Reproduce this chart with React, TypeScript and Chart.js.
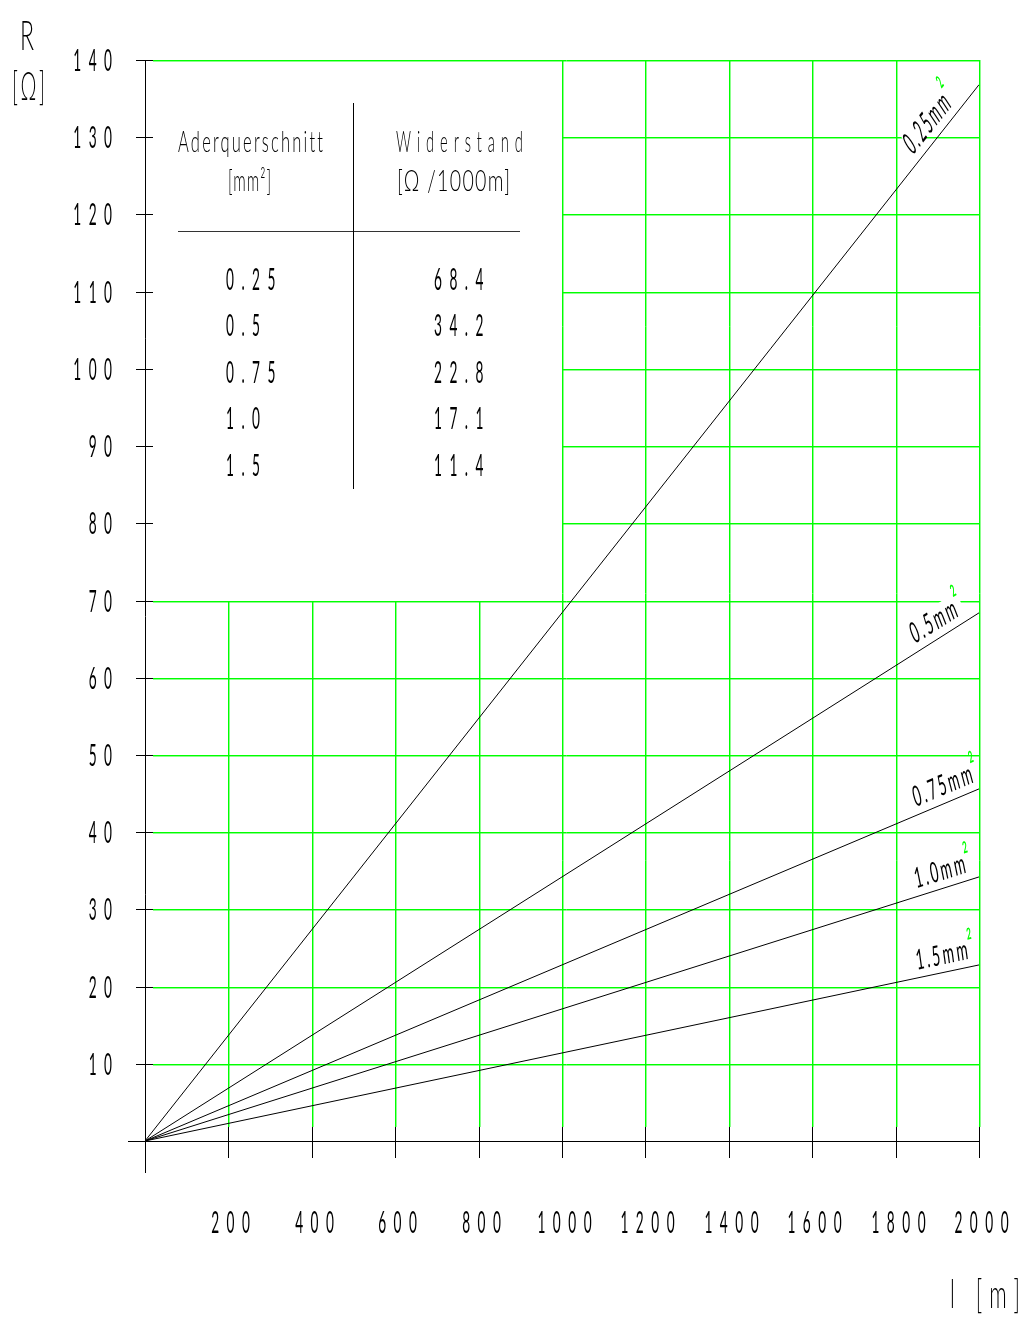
import React, { useEffect, useRef } from "react";
import { Chart, registerables } from "chart.js";

Chart.register(...registerables);

// ---- data ----
const lengthsM = [0, 2000];
const r025 = [0, 136.8];
const r05 = [0, 68.4];
const r075 = [0, 45.6];
const r10 = [0, 34.2];
const r15 = [0, 22.8];
const seriesValues = [r025, r05, r075, r10, r15];
const seriesNames = ["0.25mm", "0.5mm", "0.75mm", "1.0mm", "1.5mm"];

const tableSections = ["0.25", "0.5", "0.75", "1.0", "1.5"];
const tableResistances = ["68.4", "34.2", "22.8", "17.1", "11.4"];

const xMin = 0;
const xMax = 2000;
const xStep = 200;
const yMin = 0;
const yMax = 140;
const yStep = 10;
const partialGridLimitY = 70;
const partialGridLimitX = 1000;

const FONT = "Lato, 'DejaVu Sans', sans-serif";
const WEIGHT = 400;
const GREEN = "rgb(0,255,0)";
const GREEN_SOFT = "rgba(0,255,0,0.45)";

function setFont(ctx: CanvasRenderingContext2D, size: number, spacing: number, weight = WEIGHT) {
  ctx.font = `${weight} ${size}px ${FONT}`;
  (ctx as any).letterSpacing = `${spacing}px`;
}

// draws text; if fitWidth > 0, horizontal scale is chosen so the glyph run spans fitWidth
function drawText(
  ctx: CanvasRenderingContext2D,
  s: string,
  x: number,
  y: number,
  size: number,
  align: "left" | "center" | "right" = "left",
  sx = 1,
  spacing = 0,
  fitWidth = 0,
  color = "#000",
  weight = WEIGHT
) {
  ctx.save();
  setFont(ctx, size, spacing, weight);
  ctx.fillStyle = color;
  ctx.textBaseline = "alphabetic";
  ctx.textAlign = "left";
  const raw = ctx.measureText(s).width - spacing;
  const k = fitWidth > 0 ? fitWidth / raw : sx;
  ctx.translate(x, y);
  ctx.scale(k, 1);
  const ox = align === "center" ? -raw / 2 : align === "right" ? -raw : 0;
  ctx.fillText(s, ox, 0);
  ctx.restore();
}

function line(ctx: CanvasRenderingContext2D, x1: number, y1: number, x2: number, y2: number, color: string) {
  ctx.beginPath();
  ctx.strokeStyle = color;
  ctx.lineWidth = 1;
  ctx.moveTo(x1, y1);
  ctx.lineTo(x2, y2);
  ctx.stroke();
}

function gline(ctx: CanvasRenderingContext2D, x1: number, y1: number, x2: number, y2: number) {
  const horiz = y1 === y2;
  line(ctx, x1, y1, x2, y2, GREEN);
  if (horiz) line(ctx, x1, y1 + 1, x2, y2 + 1, GREEN_SOFT);
  else line(ctx, x1 + 1, y1, x2 + 1, y2, GREEN_SOFT);
}

const crisp = (v: number) => Math.round(v) + 0.5;

function labelGeometry(chart: any, vals: number[]) {
  const xs = chart.scales.x;
  const ys = chart.scales.y;
  const p0x = xs.getPixelForValue(lengthsM[0]);
  const p0y = ys.getPixelForValue(vals[0]);
  const p1x = xs.getPixelForValue(lengthsM[1]);
  const p1y = ys.getPixelForValue(vals[1]);
  const theta = Math.atan2(p0y - p1y, p1x - p0x);
  const t = 0.928;
  const px = p0x + t * (p1x - p0x);
  const py = p0y + t * (p1y - p0y);
  const off = 8;
  const bx = px - Math.sin(theta) * off;
  const by = py - Math.cos(theta) * off;
  return { theta, bx, by };
}

const LABEL_SIZE = 28;
const LABEL_SX = 0.5;
const LABEL_SP = 5;

function labelLocalSetup(ctx: CanvasRenderingContext2D, g: { theta: number; bx: number; by: number }) {
  ctx.translate(g.bx, g.by);
  ctx.rotate(-g.theta);
  const phi = g.theta * 0.35;
  ctx.transform(1, 0, -Math.tan(phi), 1, 0, 0);
  ctx.scale(LABEL_SX, 1);
}

const TICK_SIZE = 31;
const TICK_SX = 0.44;
const TICK_SP = 17;

const gridPlugin = {
  id: "cadGrid",
  beforeDatasetsDraw(chart: any) {
    const ctx: CanvasRenderingContext2D = chart.ctx;
    const xs = chart.scales.x;
    const ys = chart.scales.y;
    const x0 = xs.getPixelForValue(xMin);
    const xEnd = xs.getPixelForValue(xMax);
    const y0 = ys.getPixelForValue(yMin);
    const yTop = ys.getPixelForValue(yMax);
    ctx.save();
    // white masks behind line labels (horizontal grid is interrupted there)
    const masks: Array<(c: CanvasRenderingContext2D) => void> = [];
    // green grid - horizontal
    ys.ticks.forEach((tk: any) => {
      const v = tk.value;
      if (v <= yMin) return;
      const y = crisp(ys.getPixelForValue(v));
      const start = v <= partialGridLimitY || v === yMax ? x0 + 8 : xs.getPixelForValue(partialGridLimitX);
      gline(ctx, Math.round(start), y, Math.round(xEnd) + 1, y);
    });
    setFont(ctx, LABEL_SIZE, LABEL_SP);
    seriesValues.forEach((vals, i) => {
      const g = labelGeometry(chart, vals);
      ctx.save();
      labelLocalSetup(ctx, g);
      const w = ctx.measureText(seriesNames[i]).width;
      ctx.fillStyle = "#fff";
      ctx.fillRect(2, -22, w + 6, 21);
      ctx.restore();
    });
    // green grid - vertical
    xs.ticks.forEach((tk: any) => {
      const v = tk.value;
      if (v <= xMin) return;
      const x = crisp(xs.getPixelForValue(v));
      const top = v >= partialGridLimitX ? yTop : ys.getPixelForValue(partialGridLimitY);
      gline(ctx, x, Math.round(y0) - 14, x, Math.round(top));
    });
    masks.length = 0;
    // black axes
    const ay = crisp(y0);
    const ax = crisp(x0);
    line(ctx, Math.round(x0) - 17, ay, Math.round(xEnd) + 1, ay, "#000");
    line(ctx, ax, Math.round(yTop), ax, Math.round(y0) + 32, "#000");
    xs.ticks.forEach((tk: any) => {
      const v = tk.value;
      if (v <= xMin) return;
      const x = crisp(xs.getPixelForValue(v));
      line(ctx, x, Math.round(y0) - 14, x, Math.round(y0) + 17, "#000");
      drawText(ctx, String(v), x + 2, y0 + 92, TICK_SIZE, "center", TICK_SX, TICK_SP);
    });
    ys.ticks.forEach((tk: any) => {
      const v = tk.value;
      if (v <= yMin) return;
      const py = ys.getPixelForValue(v);
      const y = crisp(py);
      line(ctx, Math.round(x0) - 9, y, Math.round(x0) + 8, y, "#000");
      drawText(ctx, String(v), x0 - 33, py + 11, TICK_SIZE, "right", TICK_SX, TICK_SP);
    });
    ctx.restore();
  },
  afterDatasetsDraw(chart: any) {
    const ctx: CanvasRenderingContext2D = chart.ctx;
    ctx.save();
    // line labels
    seriesValues.forEach((vals, i) => {
      const g = labelGeometry(chart, vals);
      ctx.save();
      labelLocalSetup(ctx, g);
      setFont(ctx, LABEL_SIZE, LABEL_SP);
      ctx.fillStyle = "#000";
      ctx.textBaseline = "alphabetic";
      ctx.textAlign = "left";
      ctx.fillText(seriesNames[i], 0, 0);
      const w = ctx.measureText(seriesNames[i]).width;
      setFont(ctx, 16, 0, 700);
      ctx.fillStyle = GREEN;
      ctx.fillText("2", w - 3, -19);
      ctx.restore();
    });

    // axis titles
    drawText(ctx, "R", 27, 50, 42, "center", 1, 0, 14, "#000", 300);
    drawText(ctx, "[Ω]", 28.5, 100, 40, "center", 1, 6, 33, "#000", 300);
    drawText(ctx, "l [m]", 985, 1308, 40, "center", 1, 14, 70, "#000", 300);

    // table
    drawText(ctx, "Aderquerschnitt", 250.5, 152, 30, "center", 1, 4, 145, "#000", 300);
    drawText(ctx, "[mm²]", 249.5, 191, 30, "center", 1, 2, 43, "#000", 300);
    drawText(ctx, "Widerstand", 459.5, 152, 30, "center", 1, 12, 127, "#000", 300);
    drawText(ctx, "[Ω /1000m]", 453.5, 191, 30, "center", 1, 2, 113, "#000", 300);
    line(ctx, 178, 231.5, 520, 231.5, "#333");
    line(ctx, 353.5, 103, 353.5, 489, "#000");
    const rowBase = 290;
    const rowGap = 46.4;
    tableSections.forEach((s, i) => {
      drawText(ctx, s, 226, rowBase + i * rowGap, TICK_SIZE, "left", TICK_SX, TICK_SP);
    });
    tableResistances.forEach((s, i) => {
      drawText(ctx, s, 434, rowBase + i * rowGap, TICK_SIZE, "left", TICK_SX, TICK_SP);
    });
    ctx.restore();
  },
};

export default function App() {
  const ref = useRef<HTMLCanvasElement | null>(null);

  useEffect(() => {
    document.body.style.margin = "0";
    const canvas = ref.current;
    if (!canvas) return;
    const datasets = seriesValues.map((vals, i) => ({
      label: seriesNames[i],
      data: lengthsM.map((x, j) => ({ x, y: vals[j] })),
      borderColor: "#000",
      borderWidth: 1,
      pointRadius: 0,
      showLine: true,
      fill: false,
    }));
    const chart = new Chart(canvas, {
      type: "scatter",
      data: { datasets },
      options: {
        animation: false,
        responsive: false,
        devicePixelRatio: 1,
        layout: { padding: { left: 0, right: 47, top: 60, bottom: 0 } },
        plugins: { legend: { display: false }, tooltip: { enabled: false } },
        scales: {
          x: {
            type: "linear",
            min: xMin,
            max: xMax,
            grid: { display: false, drawTicks: false },
            border: { display: false },
            ticks: { stepSize: xStep, display: false },
            afterFit: (s: any) => {
              s.height = 176;
            },
          },
          y: {
            type: "linear",
            min: yMin,
            max: yMax,
            grid: { display: false, drawTicks: false },
            border: { display: false },
            ticks: { stepSize: yStep, display: false },
            afterFit: (s: any) => {
              s.width = 145;
            },
          },
        },
      },
      plugins: [gridPlugin],
    });
    return () => chart.destroy();
  }, []);

  return (
    <div style={{ width: 1026, height: 1317, background: "#fff" }}>
      <canvas ref={ref} width={1026} height={1317} style={{ display: "block" }} />
    </div>
  );
}
